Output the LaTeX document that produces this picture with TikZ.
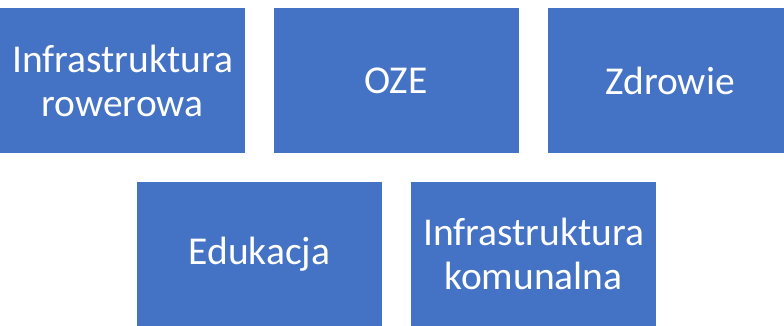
\documentclass[tikz,border=0pt]{standalone}
\usepackage{fontspec}
\setmainfont{Carlito}
\definecolor{boxblue}{HTML}{4472C4}
\begin{document}
\begin{tikzpicture}[x=1pt,y=-1pt,
  tile/.style={fill=boxblue,draw=white,line width=0.6pt,minimum width=246pt,minimum height=146pt,
    inner sep=0pt,align=center,text=white,font=\fontsize{39.5}{44}\selectfont}]
\useasboundingbox (0,0) rectangle (784,325);
\node[tile] (a) at (122.5,80.5) {Infrastruktura\\rowerowa};
\node[tile] (b) at (396,80.5) {OZE};
\node[tile] (c) at (670,80.5) {Zdrowie};
\node[tile] (d) at (259.5,254) {Edukacja};
\node[tile] (e) at (533.5,254) {Infrastruktura\\komunalna};
\end{tikzpicture}
\end{document}
